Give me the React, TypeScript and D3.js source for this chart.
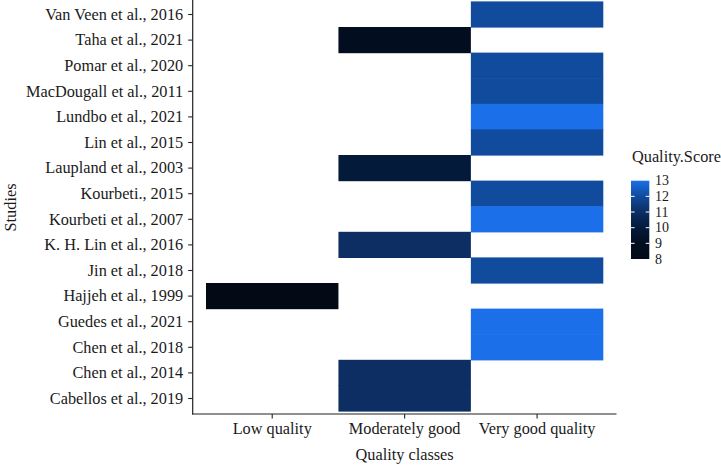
import React from 'react';
import * as d3 from 'd3';

// studies, top to bottom as drawn
const studies = [
  'Van Veen et al., 2016',
  'Taha et al., 2021',
  'Pomar et al., 2020',
  'MacDougall et al., 2011',
  'Lundbo et al., 2021',
  'Lin et al., 2015',
  'Laupland et al., 2003',
  'Kourbeti., 2015',
  'Kourbeti et al., 2007',
  'K. H. Lin et al., 2016',
  'Jin et al., 2018',
  'Hajjeh et al., 1999',
  'Guedes et al., 2021',
  'Chen et al., 2018',
  'Chen et al., 2014',
  'Cabellos et al., 2019',
];

const classes = ['Low quality', 'Moderately good', 'Very good quality'];

// quality class and score per study (same order as studies)
const studyClass = [
  'Very good quality',
  'Moderately good',
  'Very good quality',
  'Very good quality',
  'Very good quality',
  'Very good quality',
  'Moderately good',
  'Very good quality',
  'Very good quality',
  'Moderately good',
  'Very good quality',
  'Low quality',
  'Very good quality',
  'Very good quality',
  'Moderately good',
  'Moderately good',
];
const scores = [12, 9, 12, 12, 13, 12, 10, 12, 13, 11, 12, 8, 13, 13, 11, 11];

const legendTicks = [8, 9, 10, 11, 12, 13];
// colours
const scoreColors = ['#030a16', '#020e20', '#041a3a', '#0c2e63', '#114b9d', '#1b6fe9'];

const font = "'Liberation Serif', 'Times New Roman', serif";
const fs = 16.3;

export default function App() {
  const width = 721;
  const height = 466;

  const x = d3.scaleBand<string>().domain(classes).range([206, 603.3]);
  const y = d3.scaleBand<string>().domain(studies).range([1.7, 411.3]);
  const color = d3
    .scaleLinear<string>()
    .domain(legendTicks)
    .range(scoreColors)
    .interpolate(d3.interpolateRgb);

  const axisLeft = 192.7;
  const axisBottom = 414;

  // legend colourbar
  const ly = d3.scaleLinear().domain([8, 13]).range([259, 180.7]);
  const barX = 631;
  const barW = 18.3;

  return (
    <div style={{ position: 'absolute', left: 0, top: 0 }}>
      <svg width={width} height={height} style={{ display: 'block', background: '#fff', fontFamily: font }}>
        <defs>
          <linearGradient id="qs" x1="0" y1="1" x2="0" y2="0">
            {legendTicks.map((t, i) => (
              <stop key={t} offset={(t - 8) / 5} stopColor={scoreColors[i]} />
            ))}
          </linearGradient>
        </defs>

        {/* tiles */}
        {studies.map((s, i) => (
          <rect
            key={s}
            x={x(studyClass[i])}
            y={(y(s) as number) - 0.3}
            width={x.bandwidth()}
            height={y.bandwidth() + 0.6}
            fill={color(scores[i])}
          />
        ))}

        {/* y axis */}
        <line x1={axisLeft} x2={axisLeft} y1={0} y2={axisBottom + 0.5} stroke="#222" strokeWidth={1.2} />
        {studies.map((s) => {
          const cy = (y(s) as number) + y.bandwidth() / 2;
          return (
            <g key={s}>
              <line x1={axisLeft - 4.5} x2={axisLeft} y1={cy} y2={cy} stroke="#222" strokeWidth={1.1} />
              <text x={axisLeft - 9.5} y={cy} dy="0.33em" textAnchor="end" fontSize={fs} fill="#1a1a1a">
                {s}
              </text>
            </g>
          );
        })}

        {/* x axis */}
        <line x1={axisLeft - 0.6} x2={616.5} y1={axisBottom} y2={axisBottom} stroke="#222" strokeWidth={1.2} />
        {classes.map((c) => {
          const cx = (x(c) as number) + x.bandwidth() / 2;
          return (
            <g key={c}>
              <line x1={cx} x2={cx} y1={axisBottom} y2={axisBottom + 4.5} stroke="#222" strokeWidth={1.1} />
              <text x={cx} y={433.5} textAnchor="middle" fontSize={fs} fill="#1a1a1a">
                {c}
              </text>
            </g>
          );
        })}

        {/* axis titles */}
        <text x={404.6} y={460} textAnchor="middle" fontSize={fs} fill="#1a1a1a">
          Quality classes
        </text>
        <text transform="translate(16,207.5) rotate(-90)" textAnchor="middle" fontSize={fs} fill="#1a1a1a">
          Studies
        </text>

        {/* legend */}
        <text x={632} y={161.5} fontSize={fs} fill="#1a1a1a">
          Quality.Score
        </text>
        <rect x={barX} y={ly(13)} width={barW} height={ly(8) - ly(13)} fill="url(#qs)" />
        {legendTicks.map((t) => (
          <g key={t}>
            {t > 8 && t < 13 && (
              <>
                <line x1={barX} x2={barX + 3.6} y1={ly(t)} y2={ly(t)} stroke="#fff" strokeWidth={1} />
                <line x1={barX + barW - 3.6} x2={barX + barW} y1={ly(t)} y2={ly(t)} stroke="#fff" strokeWidth={1} />
              </>
            )}
            <text x={655} y={ly(t)} dy="0.34em" fontSize={14} fill="#1a1a1a">
              {t}
            </text>
          </g>
        ))}
      </svg>
    </div>
  );
}
